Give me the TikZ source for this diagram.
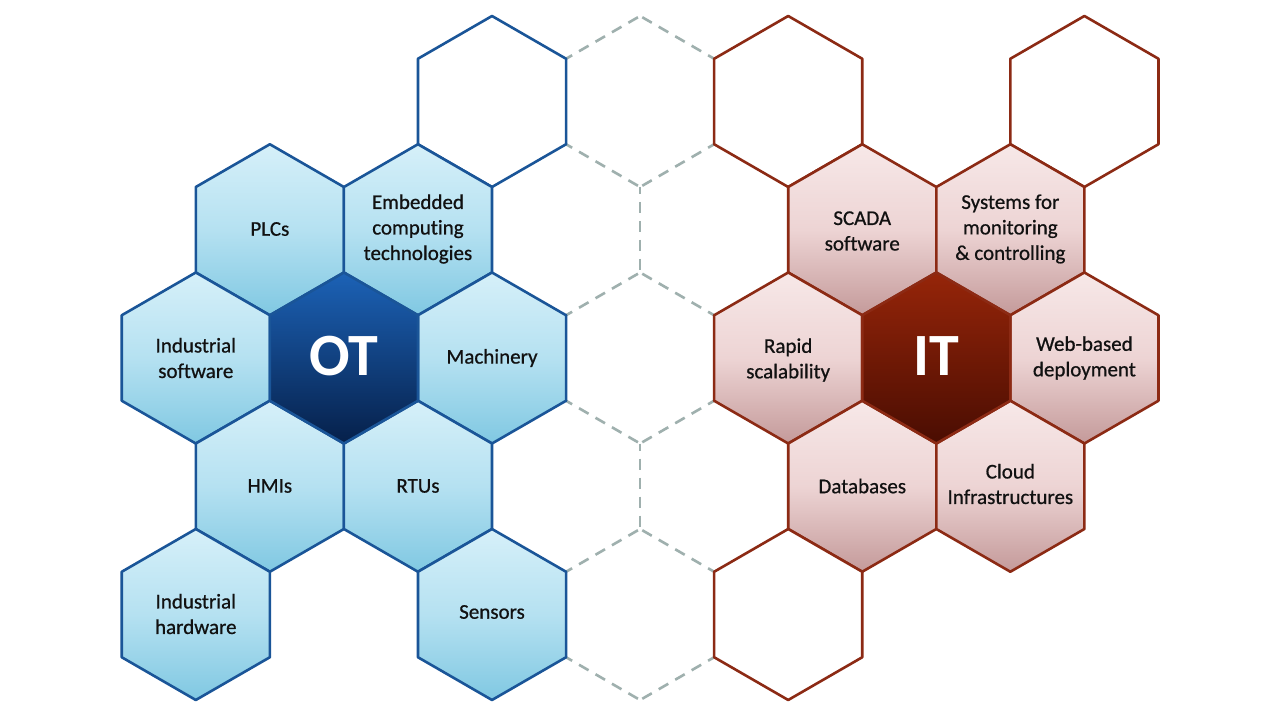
\documentclass[tikz,border=0pt]{standalone}
\usepackage{fontspec}
\setmainfont{Carlito}[Ligatures=NoCommon]
\newfontfamily\lblfont{Carlito}[Ligatures=NoCommon, FakeBold=0.7]
\definecolor{bluetop}{HTML}{D6F0F9}
\definecolor{bluemid}{HTML}{B5E1F1}
\definecolor{bluebot}{HTML}{80C8E2}
\definecolor{blueline}{HTML}{1A5598}
\definecolor{otTop}{HTML}{1C62B6}
\definecolor{otBot}{HTML}{06204A}
\definecolor{redtop}{HTML}{F7E8E8}
\definecolor{redmid}{HTML}{EDD4D4}
\definecolor{redbot}{HTML}{C49A9A}
\definecolor{redline}{HTML}{8C2A14}
\definecolor{itTop}{HTML}{962509}
\definecolor{itBot}{HTML}{4A0D02}
\definecolor{dashgray}{HTML}{9FB0AE}
\definecolor{txt}{HTML}{111111}
\newcommand\hexR{85.5}
\newcommand\hexat[3]{\path[#1,shift={(#2,#3)}] (30:\hexR) -- (90:\hexR) -- (150:\hexR) -- (210:\hexR) -- (270:\hexR) -- (330:\hexR) -- cycle;}
\tikzset{
  dashseg/.style={draw=dashgray, line width=2.6pt, dash pattern=on 11pt off 8pt, dash phase=4pt},
  bluehex/.style={draw=blueline, line width=2.6pt, line join=round, top color=bluetop, bottom color=bluebot, middle color=bluemid},
  blueempty/.style={draw=blueline, line width=2.6pt, line join=round, fill=white},
  othex/.style={draw=blueline, line width=2.6pt, line join=round, top color=otTop, bottom color=otBot},
  redhex/.style={draw=redline, line width=2.6pt, line join=round, top color=redtop, bottom color=redbot, middle color=redmid},
  redempty/.style={draw=redline, line width=2.6pt, line join=round, fill=white},
  ithex/.style={draw=redline, line width=2.6pt, line join=round, top color=itTop, bottom color=itBot},
  lbl/.style={text=txt, align=center, font=\lblfont\fontsize{21}{25.5}\selectfont, inner sep=0pt},
  bigl/.style={text=white, font=\fontsize{60}{60}\selectfont\bfseries, inner sep=0pt}
}
\begin{document}
\begin{tikzpicture}[x=1pt,y=-1pt]
\useasboundingbox (0,0) rectangle (1280,722);
\fill[white] (0,0) rectangle (1280,722);
% dashed middle grid: vertices of the empty column
\coordinate (d0t) at (640.1,16);
\coordinate (d0l) at (566.05,58.75);
\coordinate (d0r) at (714.15,58.75);
\coordinate (d1l) at (566.05,144.25);
\coordinate (d1r) at (714.15,144.25);
\coordinate (d1b) at (640.1,187);
\coordinate (d2b) at (640.1,272.5);
\coordinate (d2l) at (566.05,315.25);
\coordinate (d2r) at (714.15,315.25);
\coordinate (d3l) at (566.05,400.75);
\coordinate (d3r) at (714.15,400.75);
\coordinate (d3b) at (640.1,443.5);
\coordinate (d4b) at (640.1,529);
\coordinate (d4l) at (566.05,571.75);
\coordinate (d4r) at (714.15,571.75);
\coordinate (d5l) at (566.05,657.25);
\coordinate (d5r) at (714.15,657.25);
\coordinate (d5b) at (640.1,700);
\draw[dashseg] (d0l) -- (d0t);
\draw[dashseg] (d0r) -- (d0t);
\draw[dashseg] (d1l) -- (d1b);
\draw[dashseg] (d1r) -- (d1b);
\draw[dashseg] (d1b) -- (d2b);
\draw[dashseg] (d2l) -- (d2b);
\draw[dashseg] (d2r) -- (d2b);
\draw[dashseg] (d3l) -- (d3b);
\draw[dashseg] (d3r) -- (d3b);
\draw[dashseg] (d3b) -- (d4b);
\draw[dashseg] (d4l) -- (d4b);
\draw[dashseg] (d4r) -- (d4b);
\draw[dashseg] (d5l) -- (d5b);
\draw[dashseg] (d5r) -- (d5b);
% OT side
\hexat{blueempty}{492}{101.5}
\hexat{bluehex}{269.85}{229.75}
\hexat{bluehex}{417.95}{229.75}
\hexat{bluehex}{195.8}{358}
\hexat{bluehex}{492}{358}
\hexat{bluehex}{269.85}{486.25}
\hexat{bluehex}{417.95}{486.25}
\hexat{bluehex}{195.8}{614.5}
\hexat{bluehex}{492}{614.5}
\hexat{othex}{343.9}{358}
% IT side
\hexat{redempty}{788.2}{101.5}
\hexat{redempty}{1084.4}{101.5}
\hexat{redhex}{862.25}{229.75}
\hexat{redhex}{1010.35}{229.75}
\hexat{redhex}{788.2}{358}
\hexat{redhex}{1084.4}{358}
\hexat{redhex}{862.25}{486.25}
\hexat{redhex}{1010.35}{486.25}
\hexat{redempty}{788.2}{614.5}
\hexat{ithex}{936.3}{358}
% labels
\node[lbl] (plcs) at (269.85,229) {PLCs};
\node[lbl] (emb) at (417.95,229) {Embedded\\computing\\technologies};
\node[lbl] (indsw) at (195.8,358) {Industrial\\software};
\node[bigl] (ot) at (343.9,356) {OT};
\node[lbl] (mach) at (492,358) {Machinery};
\node[lbl] (hmi) at (269.85,486) {HMIs};
\node[lbl] (rtu) at (417.95,486) {RTUs};
\node[lbl] (indhw) at (195.8,614) {Industrial\\hardware};
\node[lbl] (sens) at (492,612) {Sensors};
\node[lbl] (scada) at (862.25,231) {SCADA\\software};
\node[lbl] (sys) at (1010.35,229) {Systems for\\monitoring\\\& controlling};
\node[lbl] (rapid) at (788.2,360) {Rapid\\scalability};
\node[bigl] (it) at (936.3,356) {IT};
\node[lbl] (web) at (1084.4,358) {Web-based\\deployment};
\node[lbl] (db) at (862.25,486) {Databases};
\node[lbl] (cloud) at (1010.35,484) {Cloud\\Infrastructures};
\end{tikzpicture}
\end{document}
